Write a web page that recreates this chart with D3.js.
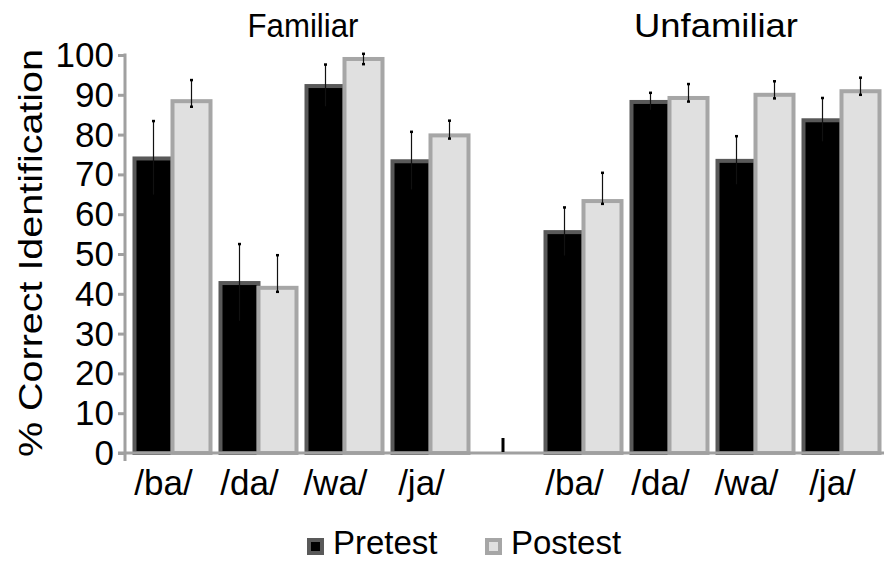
<!DOCTYPE html>
<html><head><meta charset="utf-8">
<script src="https://cdn.jsdelivr.net/npm/d3@7"></script>
<style>body{margin:0;background:#fff}svg text{font-family:"Liberation Sans",Arial,sans-serif;fill:#000}</style>
</head><body>
<svg id="c" width="888" height="561"></svg>
<script>
const groups = ["Familiar", "Unfamiliar"];
const syllables = ["/ba/", "/da/", "/wa/", "/ja/"];
const seriesNames = ["Pretest", "Postest"];
const famPre = [74.0, 42.7, 92.2, 73.3];
const famPost = [88.4, 41.5, 99.0, 79.8];
const unfPre = [55.5, 88.2, 73.4, 83.6];
const unfPost = [63.3, 89.2, 90.0, 90.9];
const famPreErrHi = [9.4, 9.8, 5.4, 7.4];
const famPostErrHi = [5.3, 8.2, 1.3, 3.7];
const famPostErrLo = [1.4, 1.0, 1.3, 0.8];
const unfPreErrHi = [6.2, 2.3, 6.2, 5.6];
const unfPostErrHi = [7.1, 3.5, 3.4, 3.4];
const unfPostErrLo = [0.7, 0.9, 0.9, 0.9];
const yTicks = [0, 10, 20, 30, 40, 50, 60, 70, 80, 90, 100];

const rows = [];
groups.forEach((g, gi) => {
  const pre = gi === 0 ? famPre : unfPre;
  const post = gi === 0 ? famPost : unfPost;
  const preHi = gi === 0 ? famPreErrHi : unfPreErrHi;
  const postHi = gi === 0 ? famPostErrHi : unfPostErrHi;
  const postLo = gi === 0 ? famPostErrLo : unfPostErrLo;
  syllables.forEach((s, i) => {
    rows.push({group: g, syl: s, series: "Pretest", v: pre[i], hi: preHi[i], lo: preHi[i]});
    rows.push({group: g, syl: s, series: "Postest", v: post[i], hi: postHi[i], lo: postLo[i]});
  });
});

const svg = d3.select("#c");
const y = d3.scaleLinear().domain([0, 100]).range([453, 55]);
const groupRange = d3.scaleOrdinal().domain(groups).range([[134.5, 468.5], [545.5, 879.5]]);
const xCat = {};
groups.forEach(g => {
  xCat[g] = d3.scaleBand().domain(syllables).range(groupRange(g)).paddingInner(10 / 86).paddingOuter(0);
});
const xSer = d3.scaleBand().domain(seriesNames).range([0, xCat[groups[0]].bandwidth()]).padding(0);
const fill = d3.scaleOrdinal().domain(seriesNames).range(["#000000", "#e0e0e0"]);
const stroke = d3.scaleOrdinal().domain(seriesNames).range(["#595959", "#a6a6a6"]);
const axisCol = "#a0a0a0";

// bars
svg.append("g").selectAll("rect").data(rows).join("rect")
  .attr("x", d => xCat[d.group](d.syl) + xSer(d.series))
  .attr("y", d => y(d.v))
  .attr("width", xSer.bandwidth())
  .attr("height", d => y(0) - y(d.v))
  .attr("fill", d => fill(d.series))
  .attr("stroke", d => stroke(d.series))
  .attr("stroke-width", 4);

// error bars
const eb = svg.append("g").selectAll("g").data(rows).join("g")
  .attr("transform", d => `translate(${xCat[d.group](d.syl) + xSer(d.series) + xSer.bandwidth() / 2},0)`);
eb.append("line")
  .attr("y1", d => y(d.v - d.lo)).attr("y2", d => y(d.v + d.hi))
  .attr("stroke", "#111").attr("stroke-width", 1.2);
eb.append("rect").attr("x", -1.5).attr("width", 3).attr("height", 2.5)
  .attr("y", d => y(d.v + d.hi) - 1.25).attr("fill", "#000");
eb.append("rect").attr("x", -1.5).attr("width", 3).attr("height", 2.5)
  .attr("y", d => y(d.v - d.lo) - 1.25).attr("fill", "#000");

// y axis
const yAxis = svg.append("g").attr("transform", "translate(125,0)")
  .call(d3.axisLeft(y).tickValues(yTicks).tickSize(7).tickSizeOuter(0).tickPadding(4));
yAxis.select(".domain").remove();
yAxis.selectAll(".tick line").attr("stroke", axisCol).attr("stroke-width", 3);
yAxis.selectAll(".tick text").style("font-size", "35px").attr("dy", "0.33em");
svg.append("line").attr("x1", 125).attr("x2", 125).attr("y1", y(100) - 1.5).attr("y2", y(0) + 8)
  .attr("stroke", axisCol).attr("stroke-width", 3);
// x baseline
svg.append("line").attr("x1", 118).attr("x2", 884).attr("y1", y(0)).attr("y2", y(0))
  .attr("stroke", axisCol).attr("stroke-width", 3);
// separator tick
svg.append("line").attr("x1", 503).attr("x2", 503).attr("y1", y(0) - 15).attr("y2", y(0) - 1)
  .attr("stroke", "#000").attr("stroke-width", 3);

// category labels
groups.forEach(g => {
  svg.append("g").selectAll("text").data(syllables).join("text")
    .attr("x", d => xCat[g](d) + xCat[g].bandwidth() / 2 - 9)
    .attr("y", 495).attr("text-anchor", "middle").style("font-size", "35px")
    .text(d => d);
});

// group titles
svg.append("text").attr("x", 303).attr("y", 37).attr("text-anchor", "middle").style("font-size", "34px")
  .attr("textLength", 111).attr("lengthAdjust", "spacingAndGlyphs").text(groups[0]);
svg.append("text").attr("x", 716).attr("y", 37).attr("text-anchor", "middle").style("font-size", "34px")
  .attr("textLength", 164).attr("lengthAdjust", "spacingAndGlyphs").text(groups[1]);

// y title
svg.append("text").attr("transform", "translate(42,253) rotate(-90)").attr("text-anchor", "middle")
  .style("font-size", "34px").attr("textLength", 408).attr("lengthAdjust", "spacingAndGlyphs")
  .text("% Correct Identification");

// legend
const legX = d3.scaleOrdinal().domain(seriesNames).range([309, 487]);
const leg = svg.append("g").selectAll("g").data(seriesNames).join("g")
  .attr("transform", d => `translate(${legX(d)},540)`);
leg.append("rect").attr("width", 13).attr("height", 13)
  .attr("fill", d => fill(d)).attr("stroke", d => stroke(d)).attr("stroke-width", 4);
leg.append("text").attr("x", 24).attr("y", 13.5).style("font-size", "33px").text(d => d);
</script>
</body></html>
